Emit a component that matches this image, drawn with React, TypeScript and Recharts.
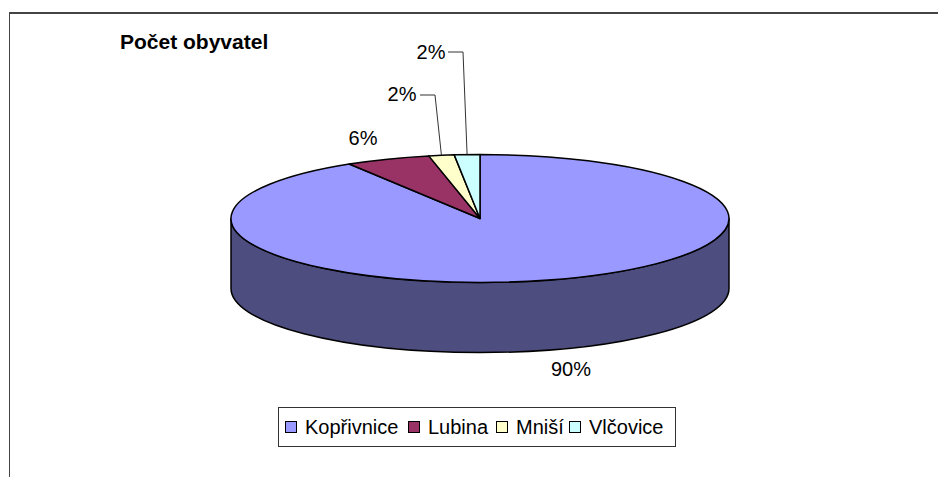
import { Legend, Pie, PieChart } from "recharts";

const NAMES = ["Kopřivnice", "Lubina", "Mniší", "Vlčovice"];
// slice sizes as measured on the drawn ellipse, printed labels are below
const SHARES = [91.2, 5.5, 1.65, 1.65];
const LABELS = ["90%", "6%", "2%", "2%"];
const COLORS = ["#9999FF", "#993366", "#FFFFCC", "#CCFFFF"];
const WALLS = ["#4D4D80", "#4D1A33", "#808066", "#668080"];

const tableData = NAMES.map((name, i) => ({
  name,
  value: SHARES[i],
  fill: COLORS[i],
  wall: WALLS[i],
}));

const FONT = '"Liberation Sans", Arial, sans-serif';
const SQUASH = 0.257;
const DEPTH = 70;
const LEGEND_SLOTS = [123, 88, 73, 100];

const rad = (a: number) => (a * Math.PI) / 180;

function TiltedSlice(props: any) {
  const { cx, cy, outerRadius: r, startAngle, endAngle, fill, payload } = props;
  const ry = r * SQUASH;
  const pt = (a: number) => [cx + r * Math.cos(rad(a)), cy - ry * Math.sin(rad(a))];

  const [sx, sy] = pt(startAngle);
  const [ex, ey] = pt(endAngle);
  const large = Math.abs(startAngle - endAngle) > 180 ? 1 : 0;
  const top = `M${cx},${cy} L${sx},${sy} A${r},${ry} 0 ${large} 1 ${ex},${ey} Z`;

  // only the part of the rim facing the viewer gets a wall
  const hi = Math.min(startAngle, 0);
  const lo = Math.max(endAngle, -180);
  let wall = null;
  if (hi > lo) {
    const [ax, ay] = pt(hi);
    const [bx, by] = pt(lo);
    const d = `M${ax},${ay} A${r},${ry} 0 0 1 ${bx},${by} L${bx},${by + DEPTH} A${r},${ry} 0 0 0 ${ax},${ay + DEPTH} Z`;
    wall = <path d={d} fill={payload.wall} stroke="#000" strokeWidth={1.5} strokeLinejoin="round" />;
  }

  return (
    <g>
      {wall}
      <path d={top} fill={fill} stroke="#000" strokeWidth={1.5} strokeLinejoin="round" />
    </g>
  );
}

const LABEL_SPOTS = [
  { x: 571, y: 376 },
  { x: 363, y: 145 },
  { x: 402, y: 101 },
  { x: 431, y: 59 },
];
// elbow of the leader line, label side end
const LEADERS: Record<number, number[]> = {
  2: [435, 95, 420, 95],
  3: [463, 52, 448, 52],
};

function SliceLabel(props: any) {
  const { cx, cy, outerRadius: r, midAngle, index } = props;
  const spot = LABEL_SPOTS[index];
  const leader = LEADERS[index];
  const px = cx + r * Math.cos(rad(midAngle));
  const py = cy - r * SQUASH * Math.sin(rad(midAngle));
  return (
    <g>
      {leader && (
        <polyline
          points={`${px},${py} ${leader[0]},${leader[1]} ${leader[2]},${leader[3]}`}
          fill="none"
          stroke="#333"
          strokeWidth={1}
        />
      )}
      <text x={spot.x} y={spot.y} textAnchor="middle" fontFamily={FONT} fontSize={20} fill="#000">
        {LABELS[index]}
      </text>
    </g>
  );
}

function LegendBox({ payload }: any) {
  return (
    <div
      style={{
        boxSizing: "border-box",
        width: 398,
        height: 40,
        border: "1px solid #333",
        background: "#fff",
        display: "flex",
        alignItems: "center",
        paddingLeft: 6,
        fontFamily: FONT,
        fontSize: 20,
        color: "#000",
        whiteSpace: "nowrap",
      }}
    >
      {(payload ?? []).map((item: any, i: number) => (
        <span key={item.value} style={{ display: "flex", alignItems: "center", width: LEGEND_SLOTS[i], flex: "none" }}>
          <span
            style={{
              boxSizing: "border-box",
              width: 12,
              height: 12,
              background: item.color,
              border: "1px solid #000",
              marginRight: 8,
            }}
          />
          {item.value}
        </span>
      ))}
    </div>
  );
}

export default function App() {
  return (
    <div style={{ position: "absolute", left: 0, top: 0, width: 938, height: 477, overflow: "hidden", background: "#fff" }}>
      <div
        style={{
          position: "absolute",
          left: 9,
          top: 12,
          width: 940,
          height: 480,
          borderTop: "2px solid #444",
          borderLeft: "1px solid #444",
        }}
      />
      <div
        style={{
          position: "absolute",
          left: 120,
          top: 30,
          fontFamily: FONT,
          fontWeight: 700,
          fontSize: 21,
          color: "#000",
        }}
      >
        Počet obyvatel
      </div>
      <PieChart width={938} height={477} margin={{ top: 0, right: 0, bottom: 0, left: 0 }} style={{ position: "absolute", left: 0, top: 0 }}>
        <Pie
          data={tableData}
          dataKey="value"
          nameKey="name"
          cx={480}
          cy={218.5}
          innerRadius={0}
          outerRadius={249}
          startAngle={90}
          endAngle={-270}
          shape={TiltedSlice}
          label={SliceLabel}
          labelLine={false}
          isAnimationActive={false}
        />
        <Legend
          content={LegendBox}
          wrapperStyle={{ position: "absolute", left: 278, top: 407, width: 398, height: 40, bottom: "auto" }}
        />
      </PieChart>
    </div>
  );
}
